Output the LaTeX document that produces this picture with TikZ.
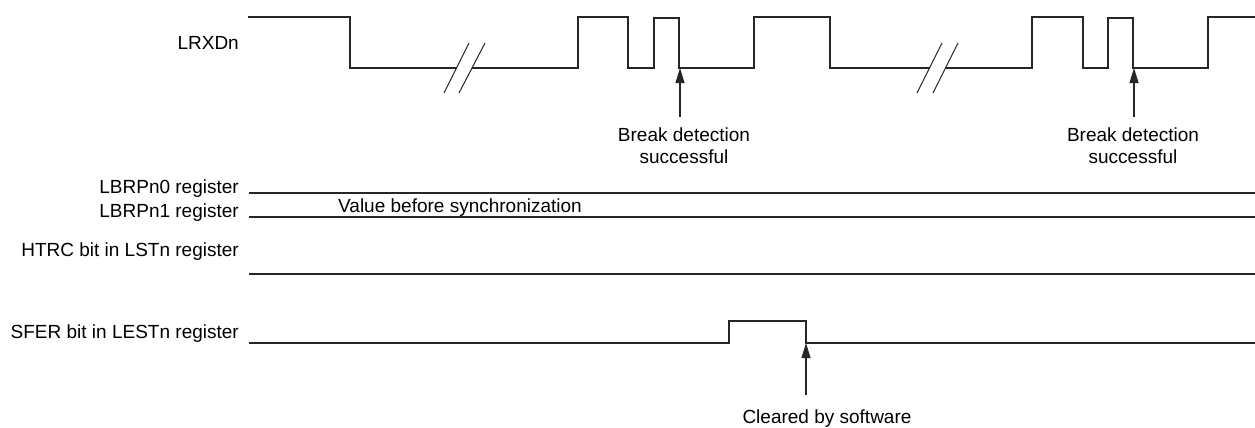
\documentclass[tikz,border=0pt]{standalone}
\usepackage{fontspec}
\setmainfont{Liberation Sans}
\usetikzlibrary{arrows.meta}
\tikzset{
  wave/.style={line width=1.2pt, draw=black!85, line join=miter},
  lbl/.style={font=\fontsize{19}{22}\selectfont, inner sep=0pt, text=black},
  sig/.style={lbl, anchor=base east},
  note/.style={lbl, align=center, anchor=north},
  arr/.style={line width=1.1pt, draw=black!85, -{Triangle[length=15pt,width=9pt]}},
  brk/.style={line width=1.0pt, draw=black!85},
}
\begin{document}
\begin{tikzpicture}[x=1pt,y=-1pt]
\useasboundingbox (0,0) rectangle (1255,428);
% signal labels
\node[sig] (lrxd) at (239,50) {LRXDn};
\node[sig] (lbrp0) at (239,193) {LBRPn0 register};
\node[sig] (lbrp1) at (239,217) {LBRPn1 register};
\node[sig] (htrc) at (239,256) {HTRC bit in LSTn register};
\node[sig] (sfer) at (239,338) {SFER bit in LESTn register};
\node[lbl, anchor=base] (val) at (460,212) {Value before synchronization};
% LRXDn waveform
\draw[wave] (248,17) -- (350,17) -- (350,68) -- (456.5,68);
\draw[wave] (471.5,68) -- (578,68) -- (578,17) -- (628,17) -- (628,68) -- (654,68) -- (654,18) -- (679,18) -- (679,68)
  -- (754,68) -- (754,17) -- (830,17) -- (830,68) -- (929.5,68);
\draw[wave] (945.5,68) -- (1032,68) -- (1032,17) -- (1083,17) -- (1083,68) -- (1108,68) -- (1108,18) -- (1133,18) -- (1133,68)
  -- (1208,68) -- (1208,17) -- (1256,17);
% break marks
\draw[brk] (444,93) -- (469,43);
\draw[brk] (459,93) -- (485,43);
\draw[brk] (917,93) -- (942,43);
\draw[brk] (933,93) -- (958,43);
% register lines
\draw[wave] (249,193) -- (1256,193);
\draw[wave] (249,217) -- (1256,217);
\draw[wave] (249,274) -- (1256,274);
% SFER waveform
\draw[wave] (249,343) -- (729,343) -- (729,321) -- (806,321) -- (806,343) -- (1256,343);
% annotations
\node[note] (bd1) at (684,128) {Break detection\\successful};
\node[note] (bd2) at (1133,128) {Break detection\\successful};
\node[note] (clr) at (827,410) {Cleared by software};
\coordinate (e1) at (680,68);
\coordinate (s1) at (680,117);
\coordinate (e2) at (1134,68);
\coordinate (s2) at (1134,117);
\coordinate (e3) at (806,343);
\coordinate (s3) at (806,395);
\draw[arr] (s1) -- (e1);
\draw[arr] (s2) -- (e2);
\draw[arr] (s3) -- (e3);
\end{tikzpicture}
\end{document}
